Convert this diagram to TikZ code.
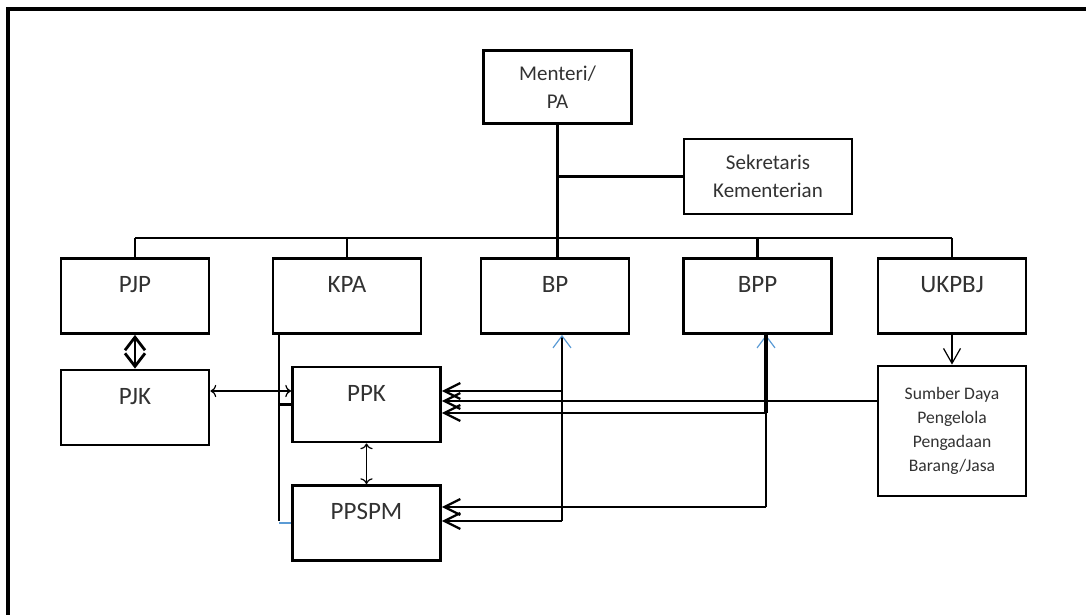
\documentclass[tikz,border=0pt]{standalone}
\usepackage{fontspec}
\setmainfont{Carlito}
\usetikzlibrary{arrows.meta}
\definecolor{tb}{RGB}{91,155,213}
\definecolor{tx}{RGB}{50,50,50}
\tikzset{u/.style={draw,line width=1.4pt,minimum width=74pt,minimum height=37.5pt,inner sep=0pt,
  text height=17pt,text depth=20.5pt,text=tx,font=\fontsize{12.5}{15}\selectfont},
 ub/.style={draw,line width=1.4pt,minimum width=74pt,minimum height=37.5pt,inner sep=0pt,align=center,
  text=tx,font=\fontsize{10.5}{13.8}\selectfont},
 wire/.style={line width=1.2pt},
 harr/.style={-{Straight Barb[length=8pt,width=8pt]},line width=1.1pt},
 tarr/.style={-{Straight Barb[length=7.5pt,width=8.5pt]},line width=.6pt},
 darr/.style={{Straight Barb[length=6.5pt,width=10pt]}-{Straight Barb[length=6.5pt,width=10pt]},line width=1.4pt},
 up/.style={-{Straight Barb[length=6pt,width=9pt,color=tb,line width=.6pt]},line width=1.2pt}}
\begin{document}
\begin{tikzpicture}[x=.5pt,y=-.5pt]
\useasboundingbox (0,0) rectangle (1086,615);
\clip (0,0) rectangle (1086,615);
\draw[line width=2pt] (8,640)--(8,9)--(1100,9);
\node[ub,minimum height=36.5pt] (mp) at (557.5,87) {Menteri/\\PA};
\node[ub,minimum width=84pt] (sek) at (768,176.5) {Sekretaris\\Kementerian};
\foreach \n/\t/\x in {pjp/PJP/135,kpa/KPA/347,bp/BP/555,bpp/BPP/757.5,ukpbj/UKPBJ/952}{
\node[u] (\n) at (\x,296) {\t};}
\node[u] (pjk) at (135,407.5) {PJK};
\node[u] (ppk) at (366.5,404.5) {PPK};
\node[u] (ppspm) at (366.5,523) {PPSPM};
\node[ub,minimum height=65pt,font=\fontsize{8.8}{12}\selectfont] (sd) at (952,431)
 {Sumber Daya\\Pengelola\\Pengadaan\\Barang/Jasa};
\coordinate (bus) at (0,238);\coordinate (kx) at (279,0);
\coordinate (bx) at (562,0);\coordinate (px) at (766,0);
\coordinate (r1) at (0,391);\coordinate (r2) at (0,401);\coordinate (r3) at (0,413);
\coordinate (s1) at (0,507);\coordinate (s2) at (0,521);
\draw[wire] (mp.south)--(mp.south|-bp.north);
\draw[wire] (mp.south|-sek.west)--(sek.west);
\draw[wire] (pjp.north|-bus)--(ukpbj.north|-bus);
\foreach \n in {pjp,kpa,bpp,ukpbj}{\draw[wire] (\n.north|-bus)--(\n.north);}
\draw[darr] (pjp.south)--(pjk.north);
\draw[tarr,<->] (pjk.east|-r1)--(ppk.west|-r1);
\draw[wire,line width=1.4pt] (kpa.south-|kx)--(kx|-s2);
\draw[wire,line width=1.4pt] (kx|-ppk.west)--(ppk.west);
\draw[tb,line width=.6pt] (kx|-ppspm.west)--(ppspm.west);
\draw[tarr,<->] (ppk.south)--(ppspm.north);
\draw[tarr] (ukpbj.south)--(sd.north);
\draw[up] (bx|-s2)--(bx|-bp.south);
\draw[up] (px|-s1)--(px|-bpp.south);
\draw[wire,line width=2pt] (px|-bpp.south)--(px|-r3);
\draw[harr] (bx|-r1)--(ppk.east|-r1);
\draw[harr] (sd.west|-r2)--(ppk.east|-r2);
\draw[harr] (px|-r3)--(ppk.east|-r3);
\draw[harr] (px|-s1)--(ppspm.east|-s1);
\draw[harr] (bx|-s2)--(ppspm.east|-s2);
\end{tikzpicture}
\end{document}
